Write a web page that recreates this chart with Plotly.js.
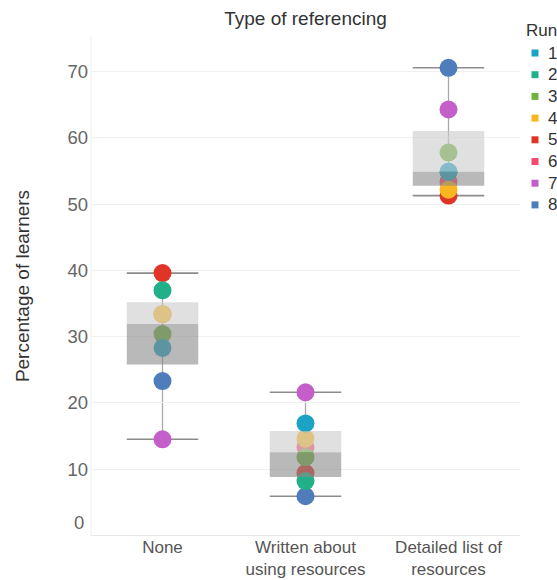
<!DOCTYPE html>
<html>
<head>
<meta charset="utf-8">
<script src="https://cdn.plot.ly/plotly-3.0.1.min.js"></script>
<style>html,body{margin:0;padding:0;background:#fff;}#chart{width:557px;height:580px;}</style>
</head>
<body>
<div id="chart"></div>
<script>
// ---- data ----
const categories = ["None", "Written about<br>using resources", "Detailed list of<br>resources"];
const runNames = ["1", "2", "3", "4", "5", "6", "7", "8"];
const run1 = [28.3, 16.9, 54.9];
const run2 = [37.0, 8.2, 54.9];
const run3 = [30.4, 11.8, 57.8];
const run4 = [33.4, 14.6, 52.2];
const run5 = [39.6, 9.4, 51.3];
const run6 = [33.4, 13.3, 53.4];
const run7 = [14.5, 21.6, 64.3];
const run8 = [23.3, 5.9, 70.6];
const runs = [run1, run2, run3, run4, run5, run6, run7, run8];
const runColors = ["#1ba3c6", "#21b087", "#6fb33f", "#f8b620", "#e03426", "#f64971", "#c45fc9", "#4f7cba"];

const FONT = "Liberation Sans, Arial, sans-serif";
const W = 557, H = 580, ML = 91, MR = 37, MT = 36, MB = 44;
const PW = W - ML - MR, PH = H - MT - MB;

function median(a) {
  const s = a.slice().sort((p, q) => p - q);
  const n = s.length, m = Math.floor(n / 2);
  return n % 2 ? s[m] : (s[m - 1] + s[m]) / 2;
}
function stats(a) {
  const s = a.slice().sort((p, q) => p - q);
  const n = s.length, h = Math.floor(n / 2);
  const lower = s.slice(0, h), upper = s.slice(n % 2 ? h + 1 : h);
  return {min: s[0], max: s[n - 1], med: median(s), q1: median(lower), q3: median(upper)};
}

const traces = [];
// points: draw run 8 first, run 1 last (on top)
for (let r = runs.length - 1; r >= 0; r--) {
  traces.push({
    type: "scatter", mode: "markers", x: categories, y: runs[r],
    marker: {size: 18, color: runColors[r], line: {width: 0}},
    showlegend: false, hoverinfo: "x+y", name: runNames[r]
  });
}

const shapes = [];
const hw = 0.25;
categories.forEach((c, i) => {
  const vals = runs.map(r => r[i]);
  const s = stats(vals);
  shapes.push({type: "line", layer: "below", xref: "x", yref: "y", x0: i, x1: i, y0: s.min, y1: s.max,
    line: {color: "#a8a8a8", width: 1.3}});
  [s.min, s.max].forEach(v => shapes.push({type: "line", layer: "below", xref: "x", yref: "y",
    x0: i - hw, x1: i + hw, y0: v, y1: v, line: {color: "#8c8c8c", width: 1.6}}));
  shapes.push({type: "rect", layer: "above", xref: "x", yref: "y", x0: i - hw, x1: i + hw, y0: s.med, y1: s.q3,
    fillcolor: "rgba(203,203,203,0.6)", line: {width: 0}});
  shapes.push({type: "rect", layer: "above", xref: "x", yref: "y", x0: i - hw, x1: i + hw, y0: s.q1, y1: s.med,
    fillcolor: "rgba(138,138,138,0.6)", line: {width: 0}});
});
shapes.push({type: "line", layer: "below", xref: "paper", yref: "paper", x0: 0, x1: 0, y0: 0, y1: 1,
  line: {color: "#eeeeee", width: 1}});

// manual legend (paper coordinates from pixel positions)
const px = x => (x - ML) / PW;
const py = y => (H - MB - y) / PH;
const annotations = [
  {text: "0", xref: "paper", yref: "y", x: 0, y: 0, xanchor: "right", yanchor: "middle", xshift: -5, yshift: 13,
   showarrow: false, font: {family: FONT, size: 18.5, color: "#666"}},
  {text: "Run", xref: "paper", yref: "paper", x: px(524), y: py(31), xanchor: "left", yanchor: "middle",
   showarrow: false, font: {family: FONT, size: 17, color: "#333"}}
];
runNames.forEach((nm, r) => {
  const yc = 53 + r * 21.7;
  annotations.push({text: nm, xref: "paper", yref: "paper", x: px(546), y: py(yc), xanchor: "left", yanchor: "middle",
    showarrow: false, font: {family: FONT, size: 17, color: "#333"}});
  shapes.push({type: "rect", xref: "paper", yref: "paper", x0: px(531.5), x1: px(538.5), y0: py(yc + 3.5), y1: py(yc - 3.5),
    fillcolor: runColors[r], line: {width: 0}, layer: "above"});
});

const layout = {
  width: W, height: H,
  margin: {l: ML, r: MR, t: MT, b: MB, autoexpand: false},
  paper_bgcolor: "#fff", plot_bgcolor: "#fff",
  font: {family: FONT, color: "#555", size: 18},
  title: {text: "Type of referencing", font: {family: FONT, size: 19, color: "#333"},
    x: 0.5, xref: "paper", xanchor: "center", y: 1 - 18 / 580, yref: "container", yanchor: "middle"},
  xaxis: {type: "category", range: [-0.5, 2.5], showgrid: false, zeroline: false,
    showline: false, ticks: "", tickfont: {size: 17, color: "#555"}, fixedrange: true, automargin: false,
    ticklabelstandoff: -1},
  yaxis: {range: [-0.1, 75.4], tickvals: [10, 20, 30, 40, 50, 60, 70], showgrid: true, gridcolor: "#f0f0f0",
    zeroline: true, zerolinecolor: "#e6e6e6", zerolinewidth: 1, showline: false, ticks: "",
    tickfont: {size: 18.5, color: "#666"}, automargin: false, ticklabelstandoff: 2,
    title: {text: "Percentage of learners", font: {size: 19, color: "#333"}, standoff: 32}},
  shapes: shapes,
  annotations: annotations,
  showlegend: false
};

Plotly.newPlot("chart", traces, layout, {displayModeBar: false, staticPlot: true});
</script>
</body>
</html>
